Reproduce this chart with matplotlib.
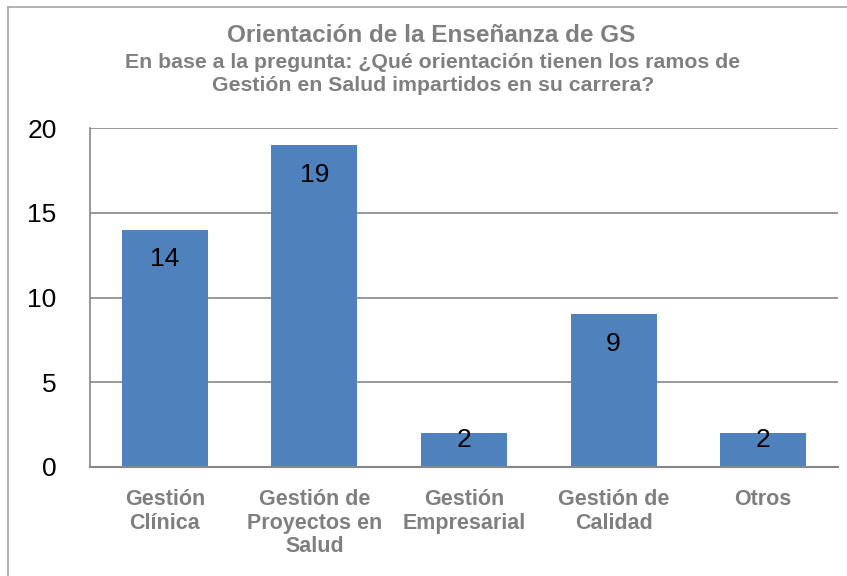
import matplotlib.pyplot as plt
from matplotlib.lines import Line2D

plt.rcParams["font.family"] = ["Liberation Sans", "DejaVu Sans"]

categories = ["Gestión\nClínica", "Gestión de\nProyectos en\nSalud", "Gestión\nEmpresarial",
              "Gestión de\nCalidad", "Otros"]
values = [14, 19, 2, 9, 2]
yticks = [0, 5, 10, 15, 20]

bar_color = "#4F81BD"
grid_color = "#868686"
text_gray = "#7F7F7F"

fig = plt.figure(figsize=(8.47, 5.76), dpi=100)
ax = fig.add_axes([90 / 847, 1 - 467 / 576, 748 / 847, 339 / 576])

x = range(len(values))
bars = ax.bar(x, values, width=0.575, color=bar_color, zorder=2)
for b, v in zip(bars, values):
    # short bars: label sits across the bar top, like the Excel original
    y = v - 1.05 if v > 3 else v + 0.3
    ax.text(b.get_x() + b.get_width() / 2, y, str(v), ha="center", va="top",
            fontsize=19, color="black", zorder=3)

ax.set_xlim(-0.5, len(values) - 0.5)
ax.set_ylim(0, 20)
ax.set_yticks(yticks)
ax.yaxis.grid(True, color=grid_color, linewidth=1.2, zorder=0)
ax.set_axisbelow(True)
ax.tick_params(axis="y", length=0, pad=24, labelsize=19, labelcolor="black")
ax.tick_params(axis="x", length=0, pad=16)
ax.set_xticks(list(x))
ax.set_xticklabels(categories, fontsize=15.5, fontweight="bold", color=text_gray,
                   linespacing=1.15, va="top")
for s in ["top", "right"]:
    ax.spines[s].set_visible(False)
ax.spines["left"].set_color(grid_color)
ax.spines["bottom"].set_color(grid_color)
ax.spines["left"].set_linewidth(1.2)
ax.spines["bottom"].set_linewidth(1.5)

fig.text(431 / 847, 1 - 35 / 576, "Orientación de la Enseñanza de GS", ha="center", va="center",
         fontsize=17.5, fontweight="bold", color=text_gray)
fig.text(433 / 847, 1 - 74 / 576,
         "En base a la pregunta: ¿Qué orientación tienen los ramos de\nGestión en Salud impartidos en su carrera?",
         ha="center", va="center", fontsize=15.3, fontweight="bold", color=text_gray,
         linespacing=1.3)

# chart frame (left and top edges only)
fig.add_artist(Line2D([8 / 847, 8 / 847], [0, 1 - 7 / 576], transform=fig.transFigure,
                      color="#A6A6A6", linewidth=1.2))
fig.add_artist(Line2D([8 / 847, 1], [1 - 7 / 576, 1 - 7 / 576], transform=fig.transFigure,
                      color="#A6A6A6", linewidth=1.2))

fig.savefig("out.png", dpi=100)
